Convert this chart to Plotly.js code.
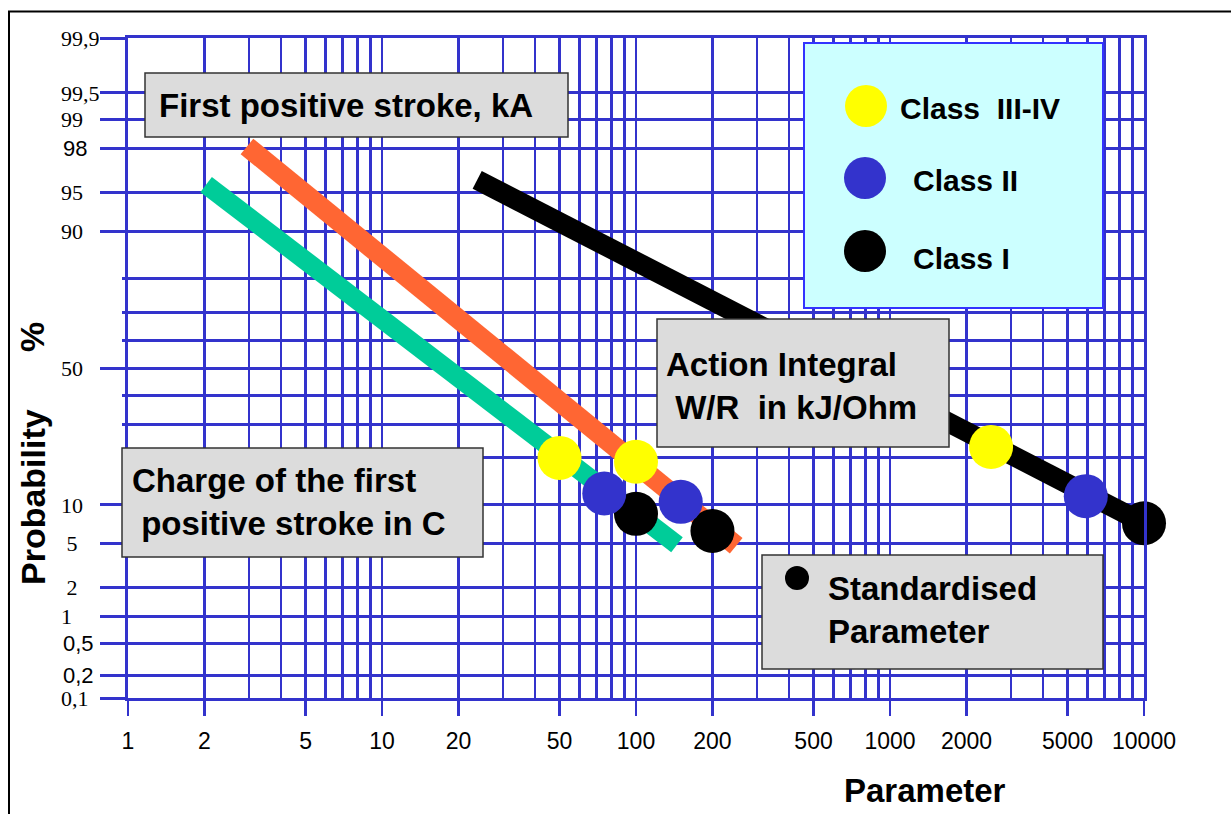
<!DOCTYPE html>
<html>
<head>
<meta charset="utf-8">
<script src="https://cdn.plot.ly/plotly-3.0.1.min.js"></script>
<style>html,body{margin:0;padding:0;background:#fff;}#chart{width:1231px;height:814px;}</style>
</head>
<body>
<div id="chart"></div>
<script>
// ---- axis ticks ----
const xTickVals = [1, 2, 5, 10, 20, 50, 100, 200, 500, 1000, 2000, 5000, 10000];
const xTickText = ['1', '2', '5', '10', '20', '50', '100', '200', '500', '1000', '2000', '5000', '10000'];
const xMinorVals = [3, 4, 6, 7, 8, 9, 30, 40, 60, 70, 80, 90, 300, 400, 600, 700, 800, 900,
                    3000, 4000, 6000, 7000, 8000, 9000];
const yTickPct = [0.1, 0.2, 0.5, 1, 2, 5, 10, 50, 90, 95, 98, 99, 99.5, 99.9];
const yTickText = ['0,1', '0,2', '0,5', '1', '2', '5', '10', '50', '90', '95', '98', '99', '99,5', '99,9'];
const yMinorPct = [20, 30, 40, 60, 70, 80];

// label styling on the probability axis (font mix and left-flush look of the original)
const SANS = {'0,2': 1, '0,5': 1, '98': 2};
const PAD = {'0,1': 2, '1': 5, '2': 4, '5': 4, '10': 3, '50': 3, '90': 3, '95': 3, '99': 3};
const yTickHtml = yTickText.map(t => {
  const nb = '&nbsp;'.repeat(SANS[t] || PAD[t] || 0);
  return SANS[t] ? '<span style="font-family:Liberation Sans">' + t + nb + '</span>' : t + nb;
});

// ---- series (probability in %) ----
const chargeX = [2.03, 145];
const chargeP = [95.7, 4.9];
const currentX = [2.94, 248];
const currentP = [98.1, 4.8];
const actionX = [23.7, 10000];
const actionP = [96.1, 7.3];
const class34X = [50, 100, 2500];
const class34P = [20, 19, 23];
const class2X = [75, 150, 5900];
const class2P = [12, 10.5, 11.5];
const class1X = [100, 200, 10000];
const class1P = [8.6, 6.35, 7.3];

// probability-paper transform (inverse normal CDF)
function probit(pct) {
  const p = pct / 100;
  const a = [-3.969683028665376e+01, 2.209460984245205e+02, -2.759285104469687e+02, 1.383577518672690e+02, -3.066479806614716e+01, 2.506628277459239e+00];
  const b = [-5.447609879822406e+01, 1.615858368580409e+02, -1.556989798598866e+02, 6.680131188771972e+01, -1.328068155288572e+01];
  const c = [-7.784894002430293e-03, -3.223964580411365e-01, -2.400758277161838e+00, -2.549732539343734e+00, 4.374664141464968e+00, 2.938163982698783e+00];
  const d = [7.784695709041462e-03, 3.224671290700398e-01, 2.445134137142996e+00, 3.754408661907416e+00];
  const pl = 0.02425, ph = 1 - pl;
  let q, r;
  if (p < pl) {
    q = Math.sqrt(-2 * Math.log(p));
    return (((((c[0]*q+c[1])*q+c[2])*q+c[3])*q+c[4])*q+c[5]) / ((((d[0]*q+d[1])*q+d[2])*q+d[3])*q+1);
  } else if (p <= ph) {
    q = p - 0.5; r = q * q;
    return (((((a[0]*r+a[1])*r+a[2])*r+a[3])*r+a[4])*r+a[5])*q / (((((b[0]*r+b[1])*r+b[2])*r+b[3])*r+b[4])*r+1);
  } else {
    q = Math.sqrt(-2 * Math.log(1 - p));
    return -(((((c[0]*q+c[1])*q+c[2])*q+c[3])*q+c[4])*q+c[5]) / ((((d[0]*q+d[1])*q+d[2])*q+d[3])*q+1);
  }
}
const Z = arr => arr.map(probit);

const BLUE = '#3333cc';
const L = 128, R = 1144, T = 38, B = 698;
const px = X => (X - L) / (R - L);
const py = Y => (B - Y) / (B - T);

const traces = [
  {x: chargeX, y: Z(chargeP), mode: 'lines', line: {color: '#00cc99', width: 19}, hoverinfo: 'skip'},
  {x: currentX, y: Z(currentP), mode: 'lines', line: {color: '#ff6633', width: 20}, hoverinfo: 'skip'},
  {x: actionX, y: Z(actionP), mode: 'lines', line: {color: '#000000', width: 20}, hoverinfo: 'skip'},
  {x: class1X, y: Z(class1P), mode: 'markers', cliponaxis: false, marker: {color: '#000000', size: 44, line: {width: 0}}},
  {x: class2X, y: Z(class2P), mode: 'markers', cliponaxis: false, marker: {color: BLUE, size: 44, line: {width: 0}}},
  {x: class34X, y: Z(class34P), mode: 'markers', cliponaxis: false, marker: {color: '#ffff00', size: 44, line: {width: 0}}}
];

const boxLine = {color: '#333333', width: 1.5};
const boxFill = '#dcdcdc';
function rect(x0, y0, x1, y1, fill, line) {
  return {type: 'rect', xref: 'paper', yref: 'paper', x0: px(x0), x1: px(x1), y0: py(y1), y1: py(y0),
          fillcolor: fill, line: line, layer: 'above'};
}
function circ(cx, cy, r, fill) {
  return {type: 'circle', xref: 'paper', yref: 'paper', x0: px(cx - r), x1: px(cx + r), y0: py(cy + r), y1: py(cy - r),
          fillcolor: fill, line: {width: 0}, layer: 'above'};
}

const shapes = [
  rect(9, 11.5, 1250, 840, 'rgba(0,0,0,0)', {color: '#000', width: 2}),
  rect(145, 73, 568, 137, boxFill, boxLine),
  rect(657, 319, 949, 447, boxFill, boxLine),
  rect(122, 448, 483, 557, boxFill, boxLine),
  rect(762, 555, 1103, 669, boxFill, boxLine),
  circ(797, 578, 12, '#000000'),
  rect(804, 43, 1103, 308, '#ccffff', {color: '#3333ff', width: 2}),
  circ(866, 106, 21, '#ffff00'),
  circ(865, 178, 21, BLUE),
  circ(865, 251, 21, '#000000')
];

const boldFont = {family: 'Liberation Sans, Arial, sans-serif', size: 33, color: '#000'};
function txt(text, X, Y, size, extra) {
  return Object.assign({text: '<b>' + text + '</b>', xref: 'paper', yref: 'paper', x: px(X), y: py(Y),
    xanchor: 'left', yanchor: 'middle', align: 'left', showarrow: false,
    font: Object.assign({}, boldFont, {size: size})}, extra || {});
}

const annotations = [
  txt('First positive stroke, kA', 157, 105, 33),
  txt('Action Integral<br>&nbsp;W/R &nbsp;in kJ/Ohm', 664, 386, 33),
  txt('Charge of the first<br>&nbsp;positive stroke in C', 130, 502, 33),
  txt('Standardised<br>Parameter', 826, 610, 33),
  txt('Class &nbsp;III-IV', 898, 108, 30),
  txt('Class II', 911, 180, 30),
  txt('Class I', 911, 258, 30),
  txt('Parameter', 925, 790, 33, {xanchor: 'center'}),
  txt('Probability', 33, 497, 34, {xanchor: 'center', textangle: -90}),
  txt('%', 32, 337, 34, {xanchor: 'center', textangle: -90})
];

const layout = {
  width: 1231, height: 814,
  margin: {l: L, r: 1231 - R, t: T, b: 814 - B, pad: 0},
  paper_bgcolor: '#ffffff', plot_bgcolor: '#ffffff',
  showlegend: false,
  xaxis: {
    type: 'log', range: [0, 4],
    tickmode: 'array', tickvals: xTickVals, ticktext: xTickText, tickangle: 0,
    ticks: 'outside', ticklen: 15, tickwidth: 2.5, tickcolor: BLUE,
    ticklabelstandoff: 5,
    tickfont: {family: 'Liberation Sans, Arial, sans-serif', size: 23, color: '#000'},
    showgrid: true, gridcolor: BLUE, gridwidth: 2.5,
    minor: {tickmode: 'array', tickvals: xMinorVals, ticks: '', showgrid: true, gridcolor: BLUE, gridwidth: 2.5},
    showline: true, mirror: true, linecolor: BLUE, linewidth: 3,
    zeroline: false, fixedrange: true
  },
  yaxis: {
    type: 'linear', range: [probit(0.1), probit(99.9)],
    tickmode: 'array', tickvals: Z(yTickPct), ticktext: yTickHtml,
    ticks: 'outside', ticklen: 25, tickwidth: 3, tickcolor: BLUE,
    ticklabelstandoff: -4,
    tickfont: {family: 'Liberation Serif, Times New Roman, serif', size: 22, color: '#000'},
    showgrid: true, gridcolor: BLUE, gridwidth: 3,
    minor: {tickmode: 'array', tickvals: Z(yMinorPct), ticks: 'outside', ticklen: 3, tickwidth: 3, tickcolor: BLUE,
            showgrid: true, gridcolor: BLUE, gridwidth: 3},
    showline: true, mirror: true, linecolor: BLUE, linewidth: 3,
    zeroline: false, fixedrange: true
  },
  shapes: shapes,
  annotations: annotations
};

Plotly.newPlot('chart', traces, layout, {displayModeBar: false, staticPlot: true});
</script>
</body>
</html>
